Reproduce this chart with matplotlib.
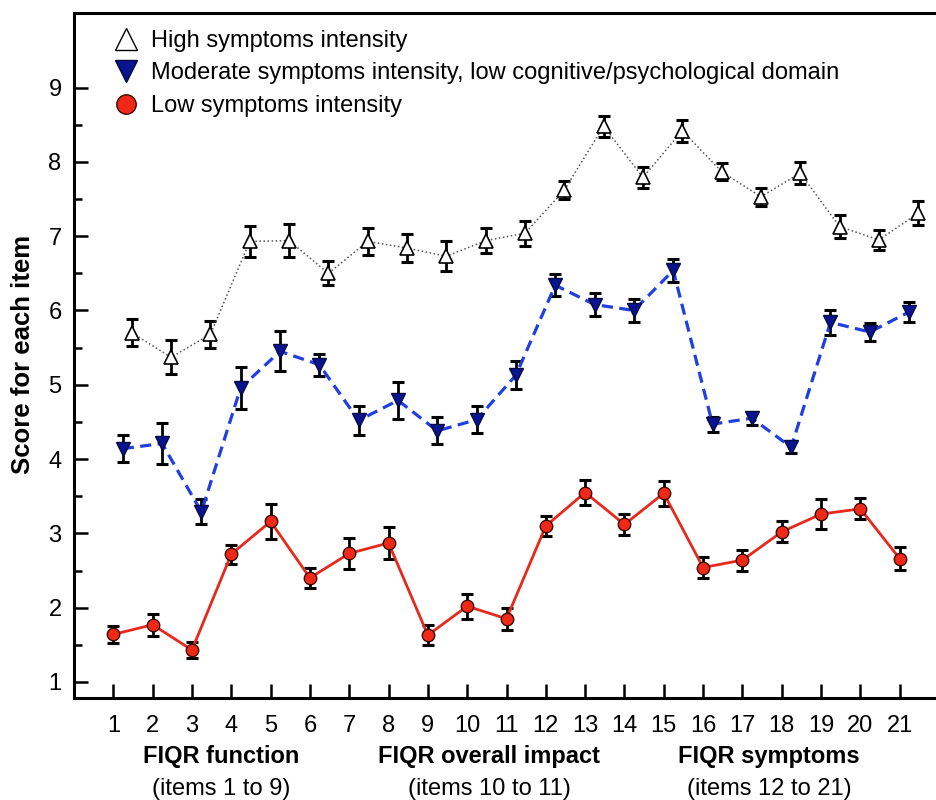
import numpy as np
import matplotlib
matplotlib.use("Agg")
import matplotlib.pyplot as plt
from matplotlib.lines import Line2D

plt.rcParams['font.family'] = ['Liberation Sans', 'DejaVu Sans']

# FIQR items
items = np.arange(1, 22)
item_labels = [str(i) for i in items]

# mean score and error for each cluster
high = [5.70, 5.37, 5.68, 6.93, 6.94, 6.50, 6.93, 6.84, 6.73, 6.94, 7.04,
        7.62, 8.48, 7.79, 8.42, 7.87, 7.53, 7.85, 7.13, 6.95, 7.31]
high_err = [0.18, 0.23, 0.18, 0.21, 0.22, 0.16, 0.18, 0.19, 0.20, 0.17, 0.17,
            0.12, 0.14, 0.14, 0.15, 0.12, 0.12, 0.15, 0.15, 0.13, 0.16]
moderate = [4.14, 4.21, 3.29, 4.96, 5.45, 5.27, 4.52, 4.79, 4.38, 4.53, 5.13,
            6.34, 6.08, 6.00, 6.54, 4.47, 4.55, 4.16, 5.84, 5.71, 5.98]
moderate_err = [0.18, 0.27, 0.17, 0.28, 0.27, 0.15, 0.19, 0.25, 0.18, 0.18, 0.19,
                0.15, 0.15, 0.16, 0.15, 0.10, 0.09, 0.08, 0.17, 0.12, 0.13]
low = [1.64, 1.77, 1.43, 2.72, 3.16, 2.40, 2.73, 2.87, 1.63, 2.02, 1.85,
       3.10, 3.55, 3.12, 3.54, 2.54, 2.64, 3.02, 3.26, 3.33, 2.66]
low_err = [0.11, 0.15, 0.11, 0.13, 0.23, 0.14, 0.21, 0.21, 0.13, 0.17, 0.15,
           0.14, 0.17, 0.14, 0.17, 0.14, 0.14, 0.14, 0.20, 0.14, 0.15]

labels = ["High symptoms intensity",
          "Moderate symptoms intensity, low cognitive/psychological domain",
          "Low symptoms intensity"]

groups = ["FIQR function", "FIQR overall impact", "FIQR symptoms"]
group_ranges = ["(items 1 to 9)", "(items 10 to 11)", "(items 12 to 21)"]

fig = plt.figure(figsize=(9.36, 8), dpi=100)
ax = fig.add_axes([74/936, 101.7/800, 865/936, 685/800])

# small horizontal shift so the error bars do not overlap
ebkw = dict(fmt='none', ecolor='black', elinewidth=2.0, capsize=4, capthick=2.2, zorder=3)

ax.errorbar(items + 0.47, high, yerr=high_err, **ebkw)
ax.plot(items + 0.47, high, linestyle=':', color='#555555', linewidth=1.1,
        marker='^', markersize=10, markerfacecolor='white', markeredgecolor='black',
        markeredgewidth=1.2, zorder=4)

ax.errorbar(items + 0.24, moderate, yerr=moderate_err, **ebkw)
ax.plot(items + 0.24, moderate, linestyle='--', dashes=(3.5, 2), color='#1f3fe0', linewidth=2.3,
        marker='v', markersize=10, markerfacecolor='#0a1490', markeredgecolor='#050a40',
        markeredgewidth=1.0, zorder=4)

ax.errorbar(items, low, yerr=low_err, **ebkw)
ax.plot(items, low, linestyle='-', color='#e8281c', linewidth=2,
        marker='o', markersize=9, markerfacecolor='#f02818', markeredgecolor='#3a0a05',
        markeredgewidth=1.0, zorder=4)

ax.set_xlim(0, 22)
ax.set_ylim(0.78, 10.0)
ax.set_xticks(items)
ax.set_xticklabels(item_labels)
ax.set_yticks(range(1, 10))
ax.set_yticks(np.arange(1.5, 9.0, 1), minor=True)
ax.tick_params(axis='both', which='major', direction='in', length=10, width=1.8,
               labelsize=17, pad=12)
ax.tick_params(axis='y', which='minor', direction='in', length=6, width=1.8)
ax.tick_params(axis='y', which='major', pad=9)
for s in ax.spines.values():
    s.set_linewidth(2.2)

fig.text(23/936, 1 - 354/800, "Score for each item", rotation=90,
         fontsize=18.5, fontweight='bold', ha='center', va='center')

handles = [
    Line2D([], [], linestyle='none', marker='^', markersize=16, markerfacecolor='white',
           markeredgecolor='black', markeredgewidth=1.0),
    Line2D([], [], linestyle='none', marker='v', markersize=16, markerfacecolor='#0a1490',
           markeredgecolor='#050a40', markeredgewidth=1.0),
    Line2D([], [], linestyle='none', marker='o', markersize=14, markerfacecolor='#f02818',
           markeredgecolor='#3a0a05', markeredgewidth=1.0),
]
ax.legend(handles, labels, loc='upper left', frameon=False, fontsize=17,
          handlelength=1.2, handletextpad=0.45, labelspacing=0.45, borderaxespad=0.3,
          bbox_to_anchor=(0.025, 1.0))

group_x = [221, 489, 769]
for gx, g, r in zip(group_x, groups, group_ranges):
    fig.text(gx/936, 1 - 757/800, g, fontsize=17, fontweight='bold', ha='center', va='center')
    fig.text(gx/936, 1 - 789/800, r, fontsize=17, ha='center', va='center')

fig.savefig("out.png", dpi=100)
